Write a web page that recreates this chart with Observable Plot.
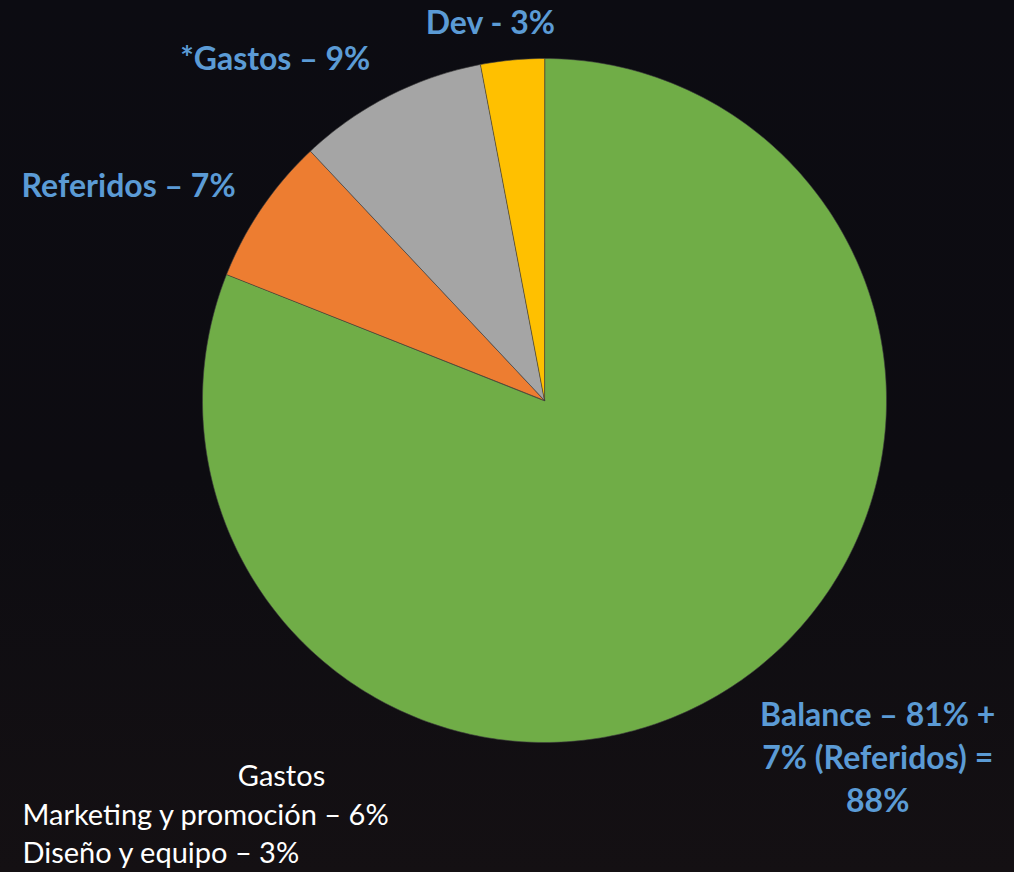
<!DOCTYPE html>
<html><head><meta charset="utf-8">
<script src="https://cdn.jsdelivr.net/npm/d3@7"></script>
<script src="https://cdn.jsdelivr.net/npm/@observablehq/plot@0.6"></script>
<style>
html,body{margin:0;padding:0;background:#0c0c11;}
#chart{width:1014px;height:872px;background:linear-gradient(180deg,#0c0c12 0%,#0d0c11 55%,#141013 100%);}
svg{display:block;}
</style></head><body><div id="chart"></div>
<script>
// ---- data ----
const categories = ["Balance", "Referidos", "*Gastos", "Dev"];
const shares = [81, 7, 9, 3];
const colors = ["#70AD47", "#ED7D31", "#A5A5A5", "#FFC000"];
const labels = ["Balance – 81% +\n7% (Referidos) =\n88%", "Referidos – 7%", "*Gastos – 9%", "Dev - 3%"];
const captionTitle = "Gastos";
const captionLines = ["Marketing y promoción – 6%", "Diseño y equipo – 3%"];

// ---- layout (pixel offsets of labels from slice mid-point on the rim) ----
const labelOffsets = [[141, 72], [-133, -25], [-114, -40], [-22, -40]];
const W = 1014, H = 872, R = 342, CX = 544, CY = 400;

const pie = d3.pie().sort(null).value(d => d.value)(categories.map((c, i) => ({cat: c, value: shares[i]})));
const slicePts = [];
pie.forEach(a => {
  slicePts.push({cat: a.data.cat, x: 0, y: 0});
  const n = Math.max(8, Math.ceil((a.endAngle - a.startAngle) * 60));
  for (let k = 0; k <= n; k++) {
    const t = a.startAngle + (a.endAngle - a.startAngle) * k / n;
    slicePts.push({cat: a.data.cat, x: Math.sin(t), y: Math.cos(t)});
  }
});
const labelData = pie.map((a, i) => {
  const m = (a.startAngle + a.endAngle) / 2;
  return {cat: a.data.cat, text: labels[i], x: Math.sin(m), y: Math.cos(m), dx: labelOffsets[i][0], dy: labelOffsets[i][1]};
});

const chart = Plot.plot({
  width: W, height: H,
  margin: 0,
  style: {background: "transparent", overflow: "visible"},
  x: {domain: [-CX / R, (W - CX) / R], axis: null},
  y: {domain: [-(H - CY) / R, CY / R], axis: null},
  color: {domain: categories, range: colors},
  marks: [
    Plot.line(slicePts, {x: "x", y: "y", z: "cat", fill: "cat", stroke: "#3c3c3c", strokeWidth: 0.6, curve: "linear-closed"}),
    ...labelData.map(d => Plot.text([d], {
      x: "x", y: "y", text: "text", dx: d.dx, dy: d.dy,
      fill: "#5B9BD5", fontSize: 32, fontWeight: "bold", fontFamily: "Lato", lineHeight: 1.34
    })),
    Plot.text([captionTitle], {frameAnchor: "top-left", dx: 281, dy: 776, textAnchor: "middle", lineAnchor: "middle", fill: "#ffffff", fontSize: 29, fontFamily: "Lato"}),
    Plot.text([captionLines.join("\n")], {frameAnchor: "top-left", dx: 22, dy: 831, lineAnchor: "middle", textAnchor: "start", fill: "#ffffff", fontSize: 29, fontFamily: "Lato", lineHeight: 1.31})
  ]
});
document.getElementById("chart").appendChild(chart);
</script>
</body></html>
